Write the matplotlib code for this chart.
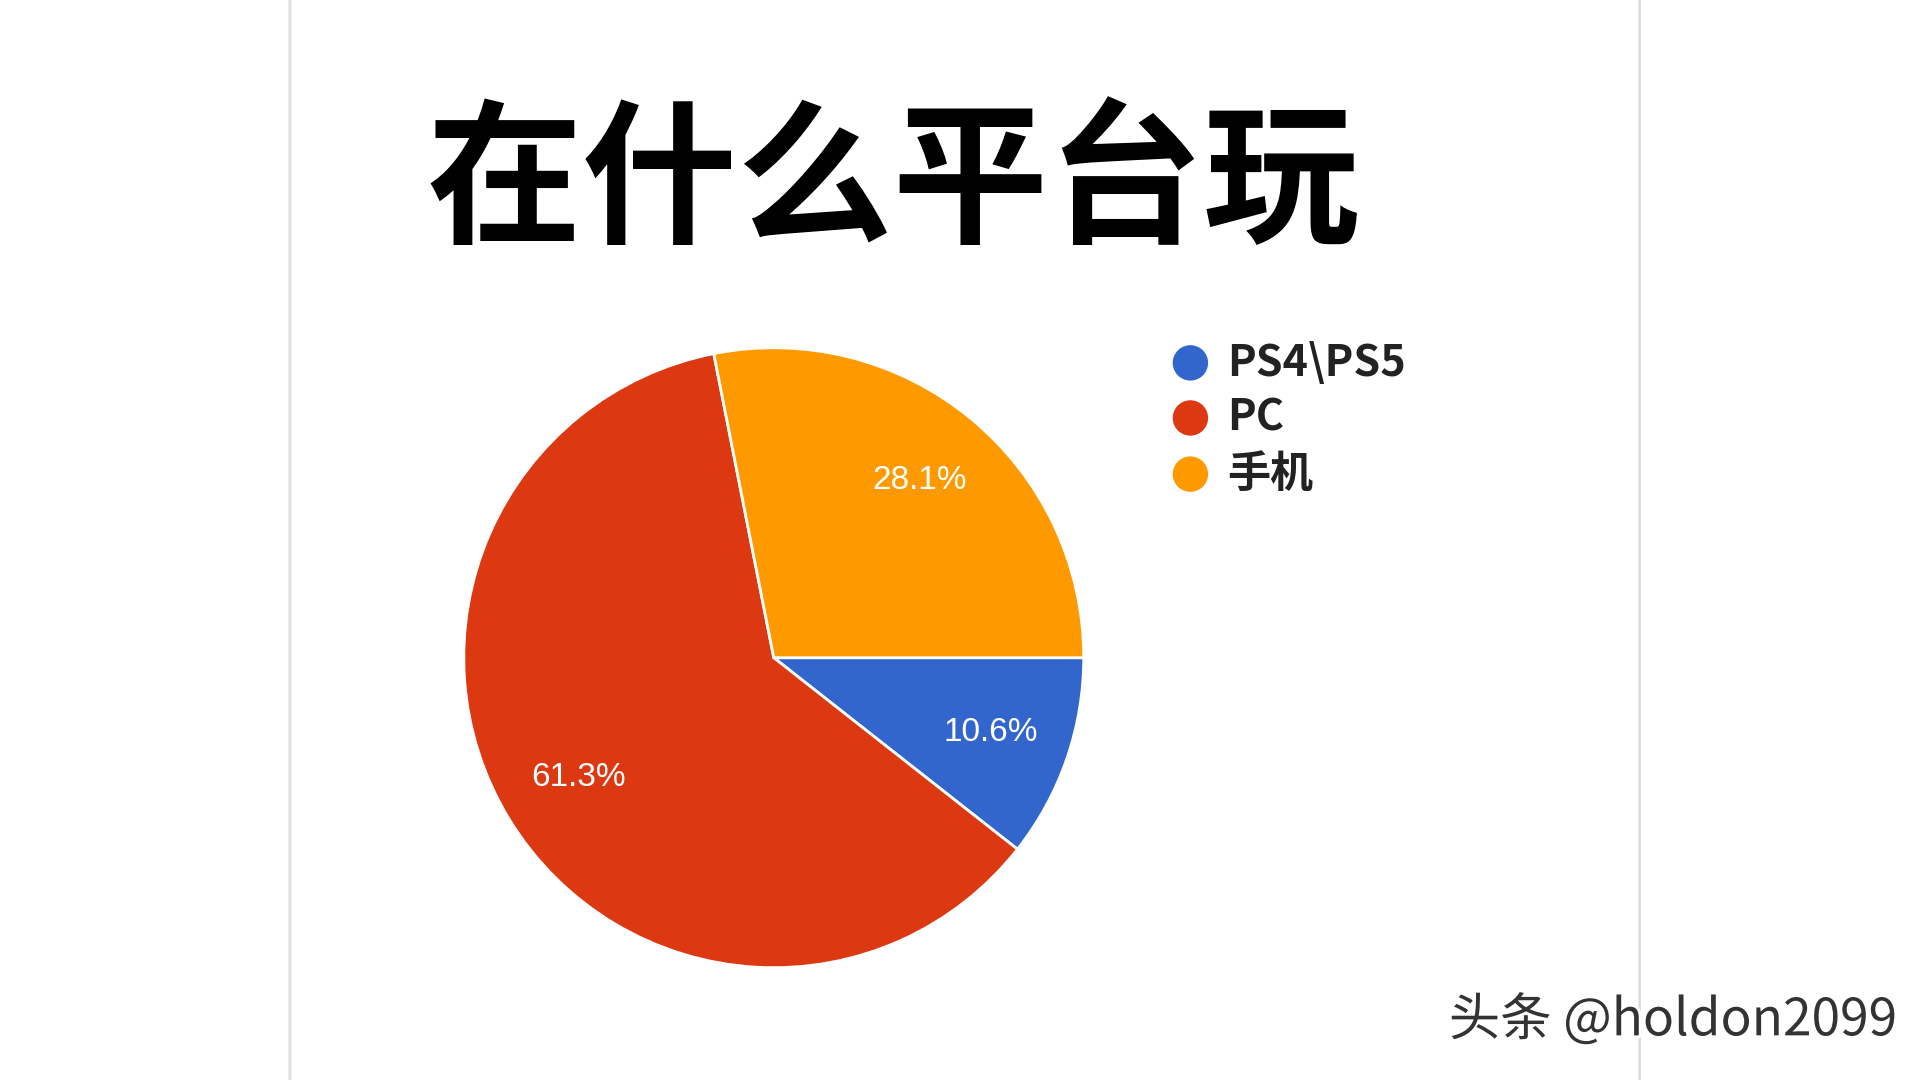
import numpy as np
import matplotlib.pyplot as plt
from matplotlib.patches import FancyBboxPatch
import matplotlib.patheffects as pe

plt.rcParams['font.family'] = ['Noto Sans CJK SC', 'DejaVu Sans']

labels = ['PS4\\PS5', 'PC', '手机']
shares = [10.6, 61.3, 28.1]
colors = ['#3366CC', '#DC3912', '#FF9900']
title = '在什么平台玩'

fig = plt.figure(figsize=(19.2, 10.8), dpi=100)
fig.patch.set_facecolor('white')

card = FancyBboxPatch((0.151, -0.02), 0.703, 1.03, boxstyle='round,pad=0,rounding_size=0.01',
                      transform=fig.transFigure, facecolor='white', edgecolor='#dddddd',
                      linewidth=2, zorder=-5)
fig.patches.append(card)

fig.text(0.465, 0.828, title, ha='center', va='center', fontsize=112, fontweight='bold', color='black')

ax = fig.add_axes([0.2415, 0.104, 0.323, 0.574])
ax.set_zorder(5)
ax.patch.set_visible(False)
wedges, texts = ax.pie(shares, colors=colors, startangle=0, counterclock=False,
                       wedgeprops=dict(edgecolor='white', linewidth=2))
for w, s in zip(wedges, shares):
    ang = np.deg2rad((w.theta1 + w.theta2) / 2)
    ax.text(0.74 * np.cos(ang), 0.74 * np.sin(ang), f'{s}%', ha='center', va='center',
            color='white', fontsize=24, family=['Liberation Sans'])
ax.set_xlim(-1, 1)
ax.set_ylim(-1, 1)
ax.set_aspect('equal')

ys = [0.664, 0.613, 0.561]
for lab, c, y in zip(labels, colors, ys):
    fig.patches.append(plt.Circle((0.62 * 19.2, y * 10.8), 0.17, transform=fig.dpi_scale_trans,
                                  color=c))
    fig.text(0.639, y, lab, ha='left', va='center', fontsize=31, fontweight='bold', color='#222222')

fig.text(0.988, 0.055, '头条 @holdon2099', ha='right', va='center', fontsize=37, color='#333333',
         path_effects=[pe.withStroke(linewidth=4, foreground='white')])

fig.savefig('out.png', dpi=100)
